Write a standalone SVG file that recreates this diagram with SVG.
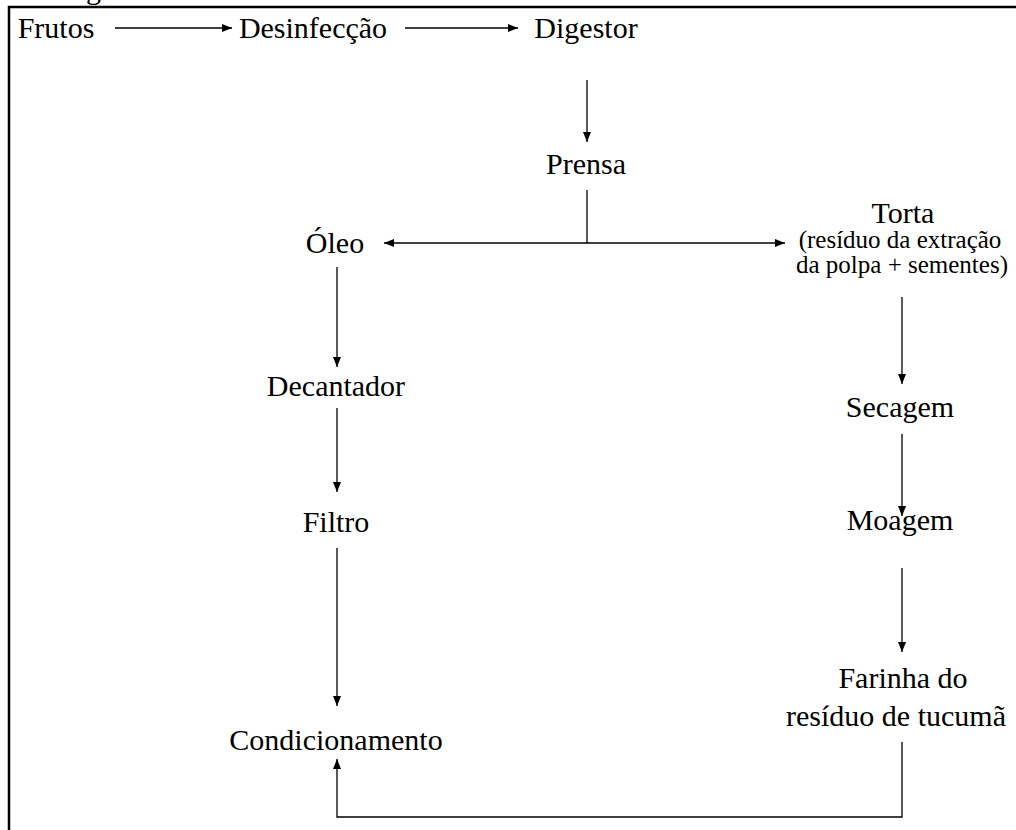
<svg xmlns="http://www.w3.org/2000/svg" width="1016" height="830" viewBox="0 0 1016 830">
<defs>
<marker id="ah" markerWidth="10" markerHeight="8" refX="10" refY="4" orient="auto" markerUnits="userSpaceOnUse">
<path d="M0,0 L10,4 L0,8 Z" fill="#000"/>
</marker>
<style>
text{font-family:'Liberation Serif',serif !important}
.t{font-size:30px;fill:#000;text-anchor:middle}
.s{font-size:25px}
.c{stroke:#000;stroke-width:1.3;fill:none}
.a{marker-end:url(#ah)}
</style>
</defs>
<rect width="1016" height="830" fill="#fff"/>
<path d="M9,830 V7 H1016" stroke="#000" stroke-width="2.5" fill="none"/>
<text x="86" y="-1" class="t" style="text-anchor:start">g</text>
<g id="frutos"><text class="t" x="56" y="38">Frutos</text></g>
<g id="desinfeccao"><text class="t" x="313" y="38">Desinfecção</text></g>
<g id="digestor"><text class="t" x="586" y="38">Digestor</text></g>
<g id="prensa"><text class="t" x="586" y="174">Prensa</text></g>
<g id="oleo"><text class="t" x="335" y="253">Óleo</text></g>
<g id="torta"><text class="t" x="903" y="223">Torta</text><text class="t s" x="900" y="248">(resíduo da extração</text><text class="t s" x="902" y="273">da polpa + sementes)</text></g>
<g id="decantador"><text class="t" x="336" y="396">Decantador</text></g>
<g id="filtro"><text class="t" x="336" y="532">Filtro</text></g>
<g id="condicionamento"><text class="t" x="336" y="750">Condicionamento</text></g>
<g id="secagem"><text class="t" x="900" y="417">Secagem</text></g>
<g id="moagem"><text class="t" x="900" y="530">Moagem</text></g>
<g id="farinha"><text class="t" x="903" y="688">Farinha do</text><text class="t" x="896" y="726">resíduo de tucumã</text></g>
<g id="connectors">
<line class="c a" x1="115" y1="28" x2="232" y2="28"/>
<line class="c a" x1="405" y1="28" x2="518" y2="28"/>
<line class="c a" x1="587" y1="80" x2="587" y2="142"/>
<line class="c" x1="587" y1="190" x2="587" y2="243"/>
<line class="c a" x1="587" y1="243" x2="384" y2="243"/>
<line class="c a" x1="587" y1="243" x2="785" y2="243"/>
<line class="c a" x1="337" y1="267" x2="337" y2="367"/>
<line class="c a" x1="337" y1="408" x2="337" y2="492"/>
<line class="c a" x1="337" y1="548" x2="337" y2="706"/>
<line class="c a" x1="902" y1="297" x2="902" y2="384"/>
<line class="c a" x1="902" y1="434" x2="902" y2="516"/>
<line class="c a" x1="902" y1="568" x2="902" y2="652"/>
<path class="c a" d="M902,742 V817 H337 V759"/>
</g>
</svg>
